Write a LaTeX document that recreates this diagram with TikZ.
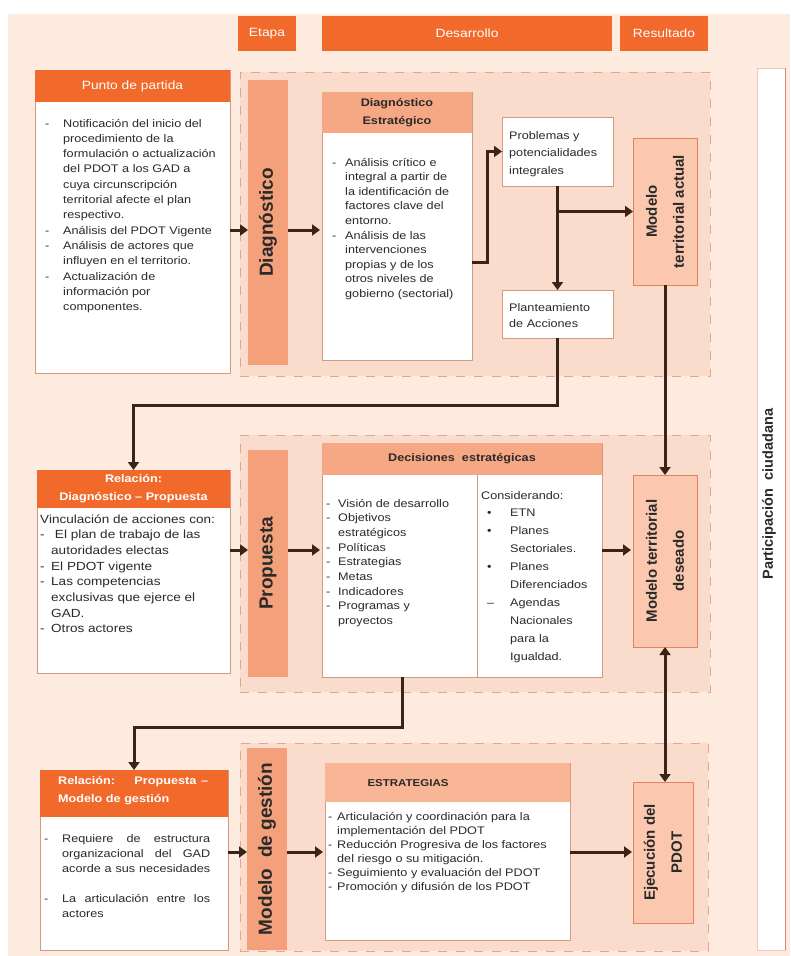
\documentclass[tikz,border=0pt]{standalone}
\usepackage{fontspec}
\setmainfont{Liberation Sans}[FakeStretch=1.15]
\newfontfamily\rotf{Liberation Sans}
\usetikzlibrary{arrows.meta,calc}
\definecolor{pagebg}{HTML}{FDEBE0}
\definecolor{secfill}{HTML}{FADCCC}
\definecolor{secdash}{HTML}{E7A48C}
\definecolor{orangeH}{HTML}{F26A2B}
\definecolor{barfill}{HTML}{F4A17B}
\definecolor{subhead}{HTML}{F5A883}
\definecolor{subheadB}{HTML}{F8B696}
\definecolor{mfill}{HTML}{FBC8AF}
\definecolor{mborder}{HTML}{E2845D}
\definecolor{wborder}{HTML}{D49A80}
\definecolor{arrc}{HTML}{3A2418}
\definecolor{txtc}{HTML}{2A2A2A}
\definecolor{partb}{HTML}{F0C8C0}
\definecolor{partr}{HTML}{E37C7C}
\tikzset{
  arr/.style={draw=arrc, line width=3pt, -{Triangle[length=8pt,width=11pt]}},
  arrboth/.style={draw=arrc, line width=3pt, {Triangle[length=8pt,width=11pt]}-{Triangle[length=8pt,width=11pt]}},
  sec/.style={fill=secfill, draw=secdash, dash pattern=on 9pt off 9pt, line width=0.9pt, inner sep=0pt, outer sep=0pt, anchor=north west},
  box/.style={inner sep=0pt, outer sep=0pt, anchor=north west},
  ohead/.style={box, fill=orangeH},
  wbox/.style={box, fill=white, draw=wborder, line width=0.8pt},
  barbox/.style={box, fill=barfill},
  mbox/.style={box, fill=mfill, draw=mborder, line width=0.9pt},
  shead/.style={box, fill=subhead},
  body/.style={inner sep=0pt, anchor=base west, align=left, text=txtc},
  bartxt/.style={rotate=90, font=\rotf\bfseries\fontsize{19}{22}\selectfont, text=txtc},
  restxt/.style={rotate=90, align=center, font=\rotf\bfseries\fontsize{15}{27}\selectfont, text=txtc},
  whitetxt/.style={text=white, align=center, inner sep=0pt},
}
\begin{document}
\begin{tikzpicture}[x=1pt,y=-1pt]
\useasboundingbox (0,0) rectangle (790,956);
\fill[pagebg] (8,14) rectangle (790,956);

% header row
\node[ohead, minimum width=58pt, minimum height=35pt] (etapa) at (238,16) {};
\node[whitetxt, font=\fontsize{12}{14}\selectfont] (etapatxt) at (etapa.center) {Etapa};
\node[ohead, minimum width=290pt, minimum height=35pt] (desarrollo) at (322,16) {};
\node[whitetxt, font=\fontsize{12}{14}\selectfont] (desarrollotxt) at (desarrollo.center) {Desarrollo};
\node[ohead, minimum width=88pt, minimum height=35pt] (resultado) at (620,16) {};
\node[whitetxt, font=\fontsize{12}{14}\selectfont] (resultadotxt) at (resultado.center) {Resultado};

% participacion
\node[box, fill=white, draw=partb, line width=0.8pt, minimum width=28pt, minimum height=882pt] (part) at (757,68) {};
\draw[partr, line width=1pt] (part.north east) -- (part.south east);
\node[rotate=90, font=\rotf\bfseries\fontsize{14.5}{16}\selectfont, text=txtc] (parttxt) at (769,494) {Participación\ \ ciudadana};

% ---------------- section 1
\node[sec, minimum width=470pt, minimum height=304pt] (sec1) at (240,72) {};
\node[wbox, minimum width=195pt, minimum height=303pt] (punto) at (35,70) {};
\node[ohead, minimum width=195pt, minimum height=32pt] (puntoh) at (35,70) {};
\node[whitetxt, font=\fontsize{12}{14}\selectfont] (puntohtxt) at (puntoh.center) {Punto de partida};
\node[body, font=\fontsize{11}{15.3}\selectfont] (puntotxt) at (45,127) {\begin{tabular}[t]{@{}p{18pt}@{}l@{}}
-&Notificación del inicio del\\
&procedimiento de la\\
&formulación o actualización\\
&del PDOT a los GAD a\\
&cuya circunscripción\\
&territorial afecte el plan\\
&respectivo.\\
-&Análisis del PDOT Vigente\\
-&Análisis de actores que\\
&influyen en el territorio.\\
-&Actualización de\\
&información por\\
&componentes.
\end{tabular}};

\node[barbox, minimum width=40pt, minimum height=285pt] (diagbar) at (248,80) {};
\node[bartxt] (diagbartxt) at (diagbar.center) {Diagnóstico};

\node[wbox, minimum width=150pt, minimum height=268pt] (diagest) at (322,92) {};
\node[shead, minimum width=150pt, minimum height=41pt] (diagesth) at (322,92) {};
\node[text=txtc, align=center, inner sep=0pt, font=\bfseries\fontsize{11}{18}\selectfont] (diagesthtxt) at (diagesth.center) {Diagnóstico\\Estratégico};
\node[body, font=\fontsize{11}{14.6}\selectfont] (diagesttxt) at (332,166) {\begin{tabular}[t]{@{}p{13pt}@{}l@{}}
-&Análisis crítico e\\
&integral a partir de\\
&la identificación de\\
&factores clave del\\
&entorno.\\
-&Análisis de las\\
&intervenciones\\
&propias y de los\\
&otros niveles de\\
&gobierno (sectorial)
\end{tabular}};

\node[wbox, minimum width=111pt, minimum height=69pt] (prob) at (502,117) {};
\node[body, font=\fontsize{11}{17.5}\selectfont] (probtxt) at (509,139) {\begin{tabular}[t]{@{}l@{}}Problemas y\\potencialidades\\integrales\end{tabular}};
\node[wbox, minimum width=111pt, minimum height=48pt] (plant) at (502,290) {};
\node[body, font=\fontsize{11}{16}\selectfont] (planttxt) at (509,311) {\begin{tabular}[t]{@{}l@{}}Planteamiento\\de Acciones\end{tabular}};

\node[mbox, minimum width=64pt, minimum height=147pt] (mta) at (633,138) {};
\node[restxt] (mtatxt) at (mta.center) {Modelo\\territorial actual};

% ---------------- section 2
\node[sec, minimum width=470pt, minimum height=257pt] (sec2) at (240,435) {};
\node[wbox, minimum width=193pt, minimum height=203pt] (rel1) at (37,470) {};
\node[ohead, minimum width=193pt, minimum height=38pt] (rel1h) at (37,470) {};
\node[whitetxt, font=\bfseries\fontsize{11}{18}\selectfont] (rel1htxt) at (rel1h.center) {Relación:\\Diagnóstico – Propuesta};
\node[body, font=\fontsize{11.8}{15.7}\selectfont] (rel1txt) at (40,523) {\begin{tabular}[t]{@{}p{11pt}@{}l@{}}
\multicolumn{2}{@{}l@{}}{Vinculación de acciones con:}\\
-&\ El plan de trabajo de las\\
&autoridades electas\\
-&El PDOT vigente\\
-&Las competencias\\
&exclusivas que ejerce el\\
&GAD.\\
-&Otros actores
\end{tabular}};

\node[barbox, minimum width=40pt, minimum height=227pt] (propbar) at (248,450) {};
\node[bartxt] (propbartxt) at (propbar.center) {Propuesta};

\node[wbox, minimum width=280pt, minimum height=234pt] (dec) at (322,443) {};
\node[shead, minimum width=280pt, minimum height=32pt] (dech) at (322,443) {};
\node[text=txtc, inner sep=0pt, font=\bfseries\fontsize{11}{14}\selectfont] (dechtxt) at (dech.center) {Decisiones\ \ estratégicas};
\coordinate (xdiv) at (477,0);
\draw[wborder, line width=0.8pt] (dech.south -| xdiv) -- (dec.south -| xdiv);
\node[body, font=\fontsize{11}{14.7}\selectfont] (decl) at (326,507) {\begin{tabular}[t]{@{}p{12pt}@{}l@{}}
-&Visión de desarrollo\\
-&Objetivos\\
&estratégicos\\
-&Políticas\\
-&Estrategias\\
-&Metas\\
-&Indicadores\\
-&Programas y\\
&proyectos
\end{tabular}};
\node[body, font=\fontsize{11}{17.9}\selectfont] (decr) at (481,499) {\begin{tabular}[t]{@{}p{29pt}@{}l@{}}
\multicolumn{2}{@{}l@{}}{Considerando:}\\
\hspace{6pt}•&ETN\\
\hspace{6pt}•&Planes\\
&Sectoriales.\\
\hspace{6pt}•&Planes\\
&Diferenciados\\
\hspace{6pt}–&Agendas\\
&Nacionales\\
&para la\\
&Igualdad.
\end{tabular}};

\node[mbox, minimum width=64pt, minimum height=172pt] (mtd) at (633,475) {};
\node[restxt] (mtdtxt) at (mtd.center) {Modelo territorial\\deseado};

% ---------------- section 3
\node[sec, minimum width=468pt, minimum height=208pt] (sec3) at (240,743) {};
\node[wbox, minimum width=188pt, minimum height=180pt] (rel2) at (40,770) {};
\node[ohead, minimum width=188pt, minimum height=47pt] (rel2h) at (40,770) {};
\node[body, text=white, font=\bfseries\fontsize{11}{18}\selectfont] (rel2htxt) at (58,784) {\begin{tabular}[t]{@{}l@{}}\makebox[150pt][s]{Relación:\ \ \ \ Propuesta –}\\Modelo de gestión\end{tabular}};
\node[body, font=\fontsize{11}{15}\selectfont] (rel2txt) at (44,842) {\begin{tabular}[t]{@{}p{18pt}@{}l@{}}
-&\makebox[148pt][s]{Requiere de estructura}\\
&\makebox[148pt][s]{organizacional del GAD}\\
&\makebox[148pt][s]{acorde a sus necesidades}\\
&\\
-&\makebox[148pt][s]{La articulación entre los}\\
&actores
\end{tabular}};

\node[barbox, minimum width=40pt, minimum height=202pt] (mgbar) at (247,748) {};
\node[bartxt] (mgbartxt) at (mgbar.center) {Modelo\ \ de gestión};

\node[wbox, minimum width=245pt, minimum height=177pt] (estr) at (325,763) {};
\node[box, fill=subheadB, minimum width=245pt, minimum height=39pt] (estrh) at (325,763) {};
\node[text=txtc, inner sep=0pt, font=\bfseries\fontsize{10}{12}\selectfont] (estrhtxt) at (408,783) {ESTRATEGIAS};
\node[body, font=\fontsize{11}{14}\selectfont] (estrtxt) at (328,820) {\begin{tabular}[t]{@{}p{9pt}@{}l@{}}
-&Articulación y coordinación para la\\
&implementación del PDOT\\
-&Reducción Progresiva de los factores\\
&del riesgo o su mitigación.\\
-&Seguimiento y evaluación del PDOT\\
-&Promoción y difusión de los PDOT
\end{tabular}};

\node[mbox, minimum width=60pt, minimum height=141pt] (ejec) at (633,782) {};
\node[restxt] (ejectxt) at (ejec.center) {Ejecución del\\PDOT};

% ---------------- connectors
\coordinate (y1) at (0,230);
\draw[arr] (punto.east |- y1) -- (diagbar.west |- y1);
\draw[arr] (diagbar.east |- y1) -- ($(diagest.west |- y1)+(-2,0)$);
\coordinate (j1) at (487,262);
\draw[arr] (diagest.east |- j1) -- (j1) -- (j1 |- prob.west) -- (prob.west);
\draw[arr] (prob.south) -- (plant.north);
\draw[arr] (prob.south |- mta.west) -- (mta.west);
\coordinate (j2) at (0,405);
\draw[arr] (plant.south) -- (plant.south |- j2) -| (rel1.north);
\draw[arr] (mta.south) -- (mta.south |- mtd.north);

\coordinate (y2) at (0,550);
\draw[arr] (rel1.east |- y2) -- (propbar.west |- y2);
\draw[arr] (propbar.east |- y2) -- ($(dec.west |- y2)+(-2,0)$);
\draw[arr] (dec.east |- y2) -- ($(mtd.west |- y2)+(-2,0)$);
\coordinate (x3) at (402,0);
\coordinate (j3) at (0,727);
\draw[arr] (dec.south -| x3) -- (x3 |- j3) -| (rel2.north);
\draw[arrboth] (mtd.south) -- (mtd.south |- ejec.north);

\coordinate (y3) at (0,852);
\draw[arr] (rel2.east |- y3) -- (mgbar.west |- y3);
\draw[arr] (mgbar.east |- y3) -- ($(estr.west |- y3)+(-2,0)$);
\draw[arr] (estr.east |- y3) -- ($(ejec.west |- y3)+(-1,0)$);
\end{tikzpicture}
\end{document}
